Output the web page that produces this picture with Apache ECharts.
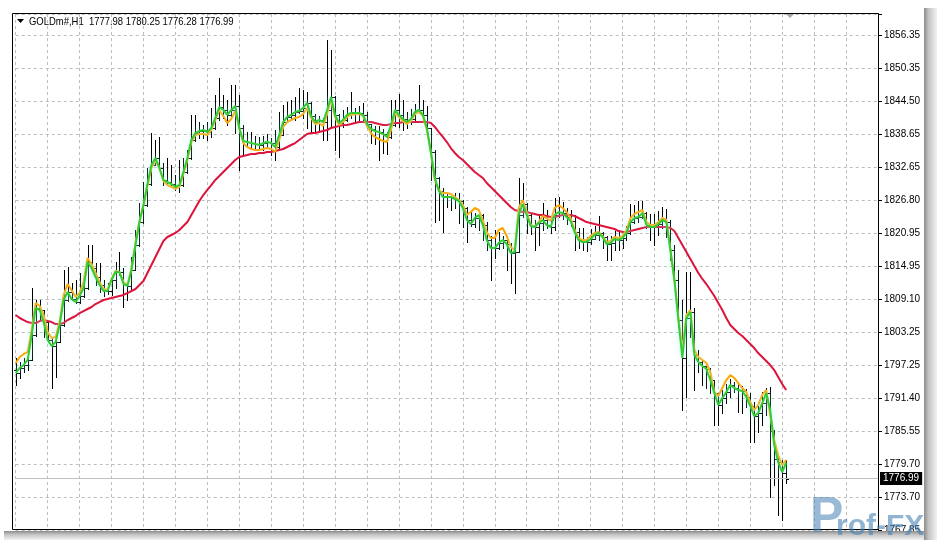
<!DOCTYPE html>
<html><head><meta charset="utf-8">
<script src="https://cdn.jsdelivr.net/npm/echarts@6/dist/echarts.min.js"></script>
<style>html,body{margin:0;padding:0;background:#fff;}#c{width:937px;height:540px;}</style>
</head><body><div id="c"></div>
<script>
const symbolTitle = 'GOLDm#,H1';
const slotCount = 217;
const categories = Array.from({length: slotCount}, (_, i) => String(i));

const openP = [1796.42,1795.88,1796.78,1797.32,1798.21,1802.68,1807.51,1807.15,1805.00,1801.78,
1800.71,1801.42,1804.47,1808.94,1810.37,1809.12,1808.58,1809.66,1811.09,1815.74,
1814.67,1813.06,1811.63,1810.55,1810.55,1812.52,1813.95,1813.95,1811.80,1811.45,
1814.31,1818.78,1822.89,1825.94,1829.69,1833.10,1834.35,1832.56,1830.41,1830.05,
1829.69,1829.16,1829.51,1831.84,1834.35,1837.56,1838.81,1839.17,1839.35,1838.99,
1839.71,1841.50,1843.47,1842.93,1842.04,1842.93,1843.65,1839.71,1837.38,1837.20,
1837.02,1836.84,1836.67,1837.02,1837.20,1837.02,1836.31,1838.46,1840.78,1841.68,
1842.04,1842.57,1842.75,1843.29,1844.18,1841.86,1840.78,1841.14,1840.78,1842.93,
1845.26,1842.04,1840.60,1841.14,1842.04,1842.39,1842.39,1842.39,1842.04,1840.42,
1839.53,1839.17,1838.99,1838.63,1838.10,1840.25,1842.93,1842.04,1841.32,1840.78,
1841.32,1842.57,1842.93,1842.04,1839.71,1835.42,1830.77,1828.44,1827.37,1827.37,
1827.37,1827.01,1826.65,1825.40,1823.25,1822.53,1823.61,1824.15,1822.36,1819.67,
1818.24,1818.24,1819.13,1819.67,1818.95,1817.35,1817.53,1824.15,1826.11,1824.15,
1822.18,1822.00,1822.71,1823.25,1822.36,1822.00,1824.15,1824.68,1824.50,1823.79,
1823.07,1821.10,1819.67,1819.31,1819.31,1819.85,1820.57,1820.93,1820.21,1818.95,
1819.13,1819.85,1819.67,1820.03,1820.93,1822.89,1823.61,1823.79,1824.50,1822.36,
1822.00,1822.00,1822.53,1823.25,1822.89,1817.89,1812.52,1805.36,1798.57,1805.72,
1806.79,1799.11,1797.85,1797.14,1796.60,1794.63,1792.30,1790.16,1791.41,1792.48,
1793.74,1793.20,1792.84,1792.66,1791.59,1789.98,1788.19,1788.72,1790.51,1792.30,
1785.50,1780.50,1779.96,1777.98];

const highP = [1798.57,1797.85,1798.57,1800.54,1811.09,1808.94,1808.94,1807.15,1805.20,1802.32,
1801.78,1805.72,1814.31,1814.85,1811.98,1812.52,1813.77,1813.77,1818.78,1818.78,
1815.56,1815.56,1812.52,1811.98,1812.90,1815.74,1817.53,1814.67,1811.98,1816.64,
1821.46,1826.29,1830.05,1832.56,1838.81,1837.56,1838.10,1833.45,1834.35,1833.10,
1831.30,1833.99,1834.35,1835.78,1842.04,1842.04,1840.78,1840.25,1840.78,1843.29,
1845.61,1848.66,1845.61,1844.72,1847.40,1847.40,1845.61,1840.25,1838.99,1838.99,
1838.28,1838.10,1838.28,1838.63,1837.92,1839.35,1842.57,1843.83,1844.36,1844.72,
1845.26,1846.87,1846.51,1846.15,1844.40,1842.22,1841.86,1841.50,1855.45,1853.67,
1845.50,1842.20,1842.93,1843.47,1846.15,1843.29,1843.65,1844.18,1842.57,1840.42,
1840.07,1840.07,1839.53,1838.99,1844.72,1844.72,1845.79,1844.72,1842.57,1843.11,
1844.00,1847.40,1844.72,1843.65,1839.71,1835.78,1831.00,1828.98,1828.08,1827.54,
1828.08,1828.08,1826.90,1825.58,1824.68,1824.50,1824.15,1824.30,1822.89,1820.39,
1821.46,1821.10,1820.39,1820.39,1819.10,1817.89,1830.77,1829.87,1826.30,1824.30,
1823.25,1824.15,1826.29,1825.04,1823.61,1827.19,1827.37,1826.47,1825.40,1825.04,
1824.15,1821.82,1821.82,1820.21,1821.64,1822.18,1823.97,1821.10,1820.40,1820.39,
1821.28,1821.46,1821.10,1822.18,1826.11,1825.94,1826.65,1826.65,1824.68,1824.33,
1824.33,1824.86,1825.58,1825.22,1823.25,1818.78,1814.31,1808.94,1813.95,1813.95,
1807.51,1800.00,1798.21,1797.14,1796.78,1794.63,1792.30,1792.84,1793.92,1794.81,
1794.27,1793.92,1793.56,1793.02,1792.30,1790.69,1789.98,1792.48,1793.20,1793.38,
1785.68,1780.68,1780.32,1780.25];

const lowP = [1793.74,1794.99,1796.06,1796.42,1798.21,1802.50,1805.36,1802.32,1801.42,1793.20,
1795.17,1801.42,1804.30,1808.80,1809.00,1808.40,1808.40,1809.50,1810.90,1814.50,
1811.63,1810.37,1809.66,1810.01,1809.84,1811.09,1813.42,1807.69,1808.94,1810.73,
1814.31,1818.60,1822.70,1825.80,1829.50,1833.10,1832.20,1829.51,1829.90,1829.51,
1828.62,1828.26,1829.30,1831.70,1834.20,1837.40,1837.92,1837.92,1837.56,1838.10,
1839.50,1841.14,1841.50,1840.25,1841.50,1838.81,1832.20,1834.79,1836.49,1836.13,
1835.78,1835.95,1835.78,1836.13,1834.88,1833.99,1836.10,1838.46,1840.78,1841.14,
1841.14,1842.39,1841.50,1839.71,1839.17,1838.81,1839.17,1837.56,1837.56,1839.89,
1835.78,1834.53,1839.89,1840.96,1841.50,1840.96,1841.14,1840.78,1839.71,1837.02,
1836.84,1833.99,1835.24,1835.06,1837.90,1840.00,1839.89,1839.35,1839.71,1840.42,
1841.10,1842.57,1840.78,1838.99,1830.41,1822.89,1823.25,1821.10,1825.58,1825.04,
1825.40,1822.71,1822.00,1819.31,1822.18,1822.00,1821.46,1819.67,1817.89,1812.52,
1816.46,1818.00,1818.24,1814.31,1811.98,1810.19,1817.53,1823.79,1820.93,1820.75,
1817.89,1818.78,1821.46,1821.82,1820.93,1821.46,1823.79,1823.43,1822.53,1822.18,
1817.89,1818.24,1817.89,1817.71,1818.95,1819.85,1819.67,1818.24,1816.10,1816.10,
1817.89,1817.89,1818.24,1819.67,1820.75,1822.71,1822.89,1823.60,1821.82,1819.67,
1818.78,1820.57,1821.82,1820.21,1816.10,1812.30,1805.36,1789.26,1791.59,1802.32,
1792.84,1796.06,1793.74,1793.20,1792.30,1786.58,1786.58,1788.72,1790.51,1791.59,
1792.48,1788.90,1788.72,1789.80,1783.53,1783.53,1785.33,1786.58,1788.37,1773.70,
1775.85,1770.49,1769.58,1776.28];

const closeP = [1795.88,1796.78,1797.32,1798.21,1802.68,1807.51,1807.15,1805.00,1801.78,1800.71,
1801.42,1804.47,1808.94,1810.37,1809.12,1808.58,1809.66,1811.09,1815.74,1814.67,
1813.06,1811.63,1810.55,1810.55,1812.52,1813.95,1813.95,1811.80,1811.45,1814.31,
1818.78,1822.89,1825.94,1829.69,1833.10,1834.35,1832.56,1830.41,1830.05,1829.69,
1829.16,1829.51,1831.84,1834.35,1837.56,1838.81,1839.17,1839.35,1838.99,1839.71,
1841.50,1843.47,1842.93,1842.04,1842.93,1843.65,1839.71,1837.38,1837.20,1837.02,
1836.84,1836.67,1837.02,1837.20,1837.02,1836.31,1838.46,1840.78,1841.68,1842.04,
1842.57,1842.75,1843.29,1844.18,1841.86,1840.78,1841.14,1840.78,1842.93,1845.26,
1842.04,1840.60,1841.14,1842.04,1842.39,1842.39,1842.39,1842.04,1840.42,1839.53,
1839.17,1838.99,1838.63,1838.10,1840.25,1842.93,1842.04,1841.32,1840.78,1841.32,
1842.57,1842.93,1842.04,1839.71,1835.42,1830.77,1828.44,1827.37,1827.37,1827.37,
1827.01,1826.65,1825.40,1823.25,1822.53,1823.61,1824.15,1822.36,1819.67,1818.24,
1818.24,1819.13,1819.67,1818.95,1817.35,1817.53,1824.15,1826.11,1824.15,1822.18,
1822.00,1822.71,1823.25,1822.36,1822.00,1824.15,1824.68,1824.50,1823.79,1823.07,
1821.10,1819.67,1819.31,1819.31,1819.85,1820.57,1820.93,1820.21,1818.95,1819.13,
1819.85,1819.67,1820.03,1820.93,1822.89,1823.61,1823.79,1824.50,1822.36,1822.00,
1822.00,1822.53,1823.25,1822.89,1817.89,1812.52,1805.36,1798.57,1805.72,1806.79,
1799.11,1797.85,1797.14,1796.60,1794.63,1792.30,1790.16,1791.41,1792.48,1793.74,
1793.20,1792.84,1792.66,1791.59,1789.98,1788.19,1788.72,1790.51,1792.30,1785.50,
1780.50,1779.96,1777.98,1776.99];

const greenMA = [1795.88,1796.78,1797.32,1798.21,1802.68,1807.51,1807.15,1805.00,1801.78,1800.71,
1801.42,1804.47,1808.94,1810.37,1809.12,1808.58,1809.66,1811.09,1815.74,1814.67,
1813.06,1811.63,1810.55,1810.55,1812.52,1813.95,1813.95,1811.80,1811.45,1814.31,
1818.78,1822.89,1825.94,1829.69,1833.10,1834.35,1832.56,1830.41,1830.05,1829.69,
1829.16,1829.51,1831.84,1834.35,1837.56,1838.81,1839.17,1839.35,1838.99,1839.71,
1841.50,1843.47,1842.93,1842.04,1842.93,1843.65,1839.71,1837.38,1837.20,1837.02,
1836.84,1836.67,1837.02,1837.20,1837.02,1836.31,1838.46,1840.78,1841.68,1842.04,
1842.57,1842.75,1843.29,1844.18,1841.86,1840.78,1841.14,1840.78,1842.93,1845.26,
1842.04,1840.60,1841.14,1842.04,1842.39,1842.39,1842.39,1842.04,1840.42,1839.53,
1839.17,1838.99,1838.63,1838.10,1840.25,1842.93,1842.04,1841.32,1840.78,1841.32,
1842.57,1842.93,1842.04,1839.71,1835.42,1830.77,1828.44,1827.37,1827.37,1827.37,
1827.01,1826.65,1825.40,1823.25,1822.53,1823.61,1824.15,1822.36,1819.67,1818.24,
1818.24,1819.13,1819.67,1818.95,1817.35,1817.53,1824.15,1826.11,1824.15,1822.18,
1822.00,1822.71,1823.25,1822.36,1822.00,1824.15,1824.68,1824.50,1823.79,1823.07,
1821.10,1819.67,1819.31,1819.31,1819.85,1820.57,1820.93,1820.21,1818.95,1819.13,
1819.85,1819.67,1820.03,1820.93,1822.89,1823.61,1823.79,1824.50,1822.36,1822.00,
1822.00,1822.53,1823.25,1822.89,1817.89,1812.52,1805.36,1798.57,1805.72,1806.79,
1799.11,1797.85,1797.14,1796.60,1794.63,1792.30,1790.16,1791.41,1792.48,1793.74,
1793.20,1792.84,1792.66,1791.59,1789.98,1788.19,1788.72,1790.51,1792.30,1789.26,
1783.00,1779.96,1778.17,1779.78];

const orangeMA = [1797.67,1798.75,1799.28,1799.64,1803.57,1808.40,1807.87,1806.26,1803.21,1802.14,
1802.32,1805.00,1809.84,1811.80,1810.73,1809.48,1810.19,1812.16,1816.46,1815.38,
1813.77,1812.16,1810.91,1810.73,1812.70,1814.13,1813.95,1812.16,1811.63,1814.67,
1819.13,1823.07,1825.94,1829.33,1832.56,1833.99,1832.56,1830.23,1829.51,1829.16,
1828.80,1829.16,1831.48,1833.99,1837.20,1838.46,1838.63,1838.63,1838.46,1839.35,
1841.14,1842.93,1841.86,1840.60,1841.32,1842.75,1839.71,1837.02,1836.31,1835.95,
1835.78,1835.78,1835.95,1836.13,1835.95,1835.42,1837.56,1839.89,1840.78,1841.14,
1841.50,1841.68,1842.22,1843.29,1841.50,1840.42,1840.60,1840.07,1842.22,1844.72,
1841.68,1840.25,1840.78,1841.68,1842.04,1842.22,1842.22,1841.86,1840.07,1838.81,
1838.10,1837.74,1837.38,1837.20,1839.35,1842.39,1841.68,1840.96,1840.42,1840.96,
1842.22,1842.57,1841.86,1839.35,1835.24,1830.41,1828.62,1828.08,1828.08,1827.90,
1827.37,1826.83,1825.94,1824.15,1824.68,1825.40,1825.04,1823.25,1821.10,1820.03,
1820.03,1821.46,1821.82,1820.39,1818.42,1817.89,1825.40,1826.83,1824.68,1822.36,
1822.00,1822.89,1823.97,1823.61,1823.07,1825.40,1825.94,1825.40,1824.68,1823.61,
1821.46,1820.03,1819.67,1819.67,1820.39,1820.93,1821.10,1820.39,1819.31,1819.49,
1820.21,1820.03,1820.39,1821.46,1823.61,1824.33,1824.68,1825.04,1822.89,1822.36,
1822.36,1822.89,1823.61,1823.25,1817.89,1812.52,1805.72,1800.00,1806.26,1807.15,
1800.00,1798.75,1798.21,1797.67,1796.06,1792.48,1791.77,1793.20,1794.63,1795.52,
1794.99,1794.09,1793.20,1792.48,1790.69,1789.26,1790.16,1791.95,1792.84,1788.37,
1783.89,1781.21,1779.42,1780.32];

const redMA = [1806.26,1805.72,1805.36,1805.00,1804.82,1804.82,1805.18,1805.36,1805.18,1805.00,
1804.64,1804.64,1804.82,1805.36,1805.72,1806.08,1806.61,1806.97,1807.33,1807.69,
1808.22,1808.58,1808.94,1809.12,1809.30,1809.48,1809.66,1809.84,1810.19,1810.55,
1810.91,1811.63,1812.34,1813.77,1815.20,1816.64,1818.07,1819.49,1820.21,1820.57,
1820.93,1821.46,1822.18,1822.89,1824.15,1825.40,1826.65,1827.72,1828.62,1829.51,
1830.41,1831.12,1831.84,1832.56,1833.27,1833.99,1834.53,1834.71,1834.88,1835.06,
1835.06,1835.24,1835.24,1835.42,1835.42,1835.60,1835.78,1835.95,1836.31,1836.67,
1837.02,1837.56,1838.10,1838.63,1838.81,1838.81,1838.99,1839.17,1839.35,1839.71,
1839.89,1840.07,1840.25,1840.25,1840.42,1840.60,1840.78,1840.78,1840.78,1840.78,
1840.60,1840.42,1840.25,1840.25,1840.42,1840.60,1840.60,1840.78,1840.78,1840.78,
1840.78,1840.78,1840.78,1840.78,1840.60,1839.89,1838.99,1838.10,1837.20,1836.13,
1835.24,1834.53,1833.99,1833.27,1832.56,1831.84,1831.30,1830.77,1829.87,1829.16,
1828.44,1827.72,1827.01,1826.29,1825.58,1825.04,1824.86,1824.68,1824.68,1824.50,
1824.33,1824.15,1824.15,1823.97,1823.79,1823.79,1823.97,1824.15,1824.15,1824.15,
1823.97,1823.61,1823.25,1822.89,1822.71,1822.53,1822.36,1822.18,1822.00,1821.82,
1821.64,1821.28,1821.10,1821.10,1821.28,1821.46,1821.64,1821.82,1822.00,1822.00,
1822.00,1822.00,1822.00,1822.00,1821.82,1821.28,1820.03,1818.78,1817.53,1816.28,
1815.02,1813.77,1812.70,1811.80,1810.73,1809.66,1808.40,1807.15,1805.72,1804.47,
1803.75,1803.04,1802.50,1801.78,1801.07,1800.35,1799.46,1798.75,1798.03,1797.31,
1796.42,1795.17,1793.92,1792.84];

const tickLabels = ['1767.85','1773.70','1779.70','1785.55','1791.40','1797.25','1803.25','1809.10',
  '1814.95','1820.95','1826.80','1832.65','1838.65','1844.50','1850.35','1856.35'];

const n = closeP.length;
const last = n - 1;
const lastPrice = closeP[last];
const headerText = symbolTitle + '  ' + [openP[last], highP[last], lowP[last], closeP[last]].map(v => v.toFixed(2)).join(' ');
const ohlcData = openP.map((o, i) => [i, o, highP[i], lowP[i], closeP[i]]);

const FONT = '"Liberation Sans", Arial, sans-serif';
const chart = echarts.init(document.getElementById('c'), null, {renderer: 'canvas'});

chart.setOption({
  animation: false,
  backgroundColor: '#ffffff',
  grid: {left: 15.7, right: 59, top: 14, bottom: 10, containLabel: false},
  xAxis: {
    type: 'category', data: categories, boundaryGap: false,
    axisLine: {show: false}, axisTick: {show: false}, axisLabel: {show: false},
    splitLine: {show: true, interval: (idx) => idx % 8 === 0,
      lineStyle: {color: '#bdbdbd', type: [3, 3], width: 1}}
  },
  yAxis: [
    {type: 'value', min: 1767.80, max: 1860.10, show: false, scale: true, splitLine: {show: false}},
    {type: 'value', min: 0, max: 15.635, interval: 1, position: 'right',
      axisLine: {show: true, lineStyle: {color: '#000', width: 1}},
      axisTick: {show: true, length: 4, inside: false, lineStyle: {color: '#000'}},
      axisLabel: {show: true, margin: 6, color: '#000', fontSize: 10, fontFamily: FONT,
        formatter: (v) => { const k = Math.round(v); return (Math.abs(v - k) < 1e-6 && k >= 0 && k < tickLabels.length) ? tickLabels[k] : ''; }},
      splitLine: {show: true, lineStyle: {color: '#bdbdbd', type: [3, 3], width: 1}}
    }
  ],
  series: [
    {
      type: 'custom', name: 'bars', xAxisIndex: 0, yAxisIndex: 0, z: 3,
      data: ohlcData, encode: {x: 0, y: [1, 2, 3, 4]}, clip: false,
      renderItem: (params, api) => {
        const i = api.value(0);
        const pO = api.coord([i, api.value(1)]);
        const pH = api.coord([i, api.value(2)]);
        const pL = api.coord([i, api.value(3)]);
        const pC = api.coord([i, api.value(4)]);
        const x = Math.round(pH[0]) + 0.5;
        const st = {stroke: '#000', lineWidth: 1};
        const yo = Math.round(pO[1]) + 0.5, yc = Math.round(pC[1]) + 0.5;
        return {type: 'group', children: [
          {type: 'line', shape: {x1: x, y1: Math.round(pH[1]), x2: x, y2: Math.round(pL[1]) + 1}, style: st},
          {type: 'line', shape: {x1: x - 2.5, y1: yo, x2: x, y2: yo}, style: st},
          {type: 'line', shape: {x1: x, y1: yc, x2: x + 2.5, y2: yc}, style: st}
        ]};
      },
      markLine: {
        silent: true, symbol: 'none', animation: false,
        lineStyle: {color: '#c0c0c0', type: 'solid', width: 1},
        label: {show: true, position: 'end', distance: 2, formatter: lastPrice.toFixed(2),
          backgroundColor: '#000', color: '#fff', padding: [2, 3, 1, 3], fontSize: 10, fontFamily: FONT},
        data: [{yAxis: lastPrice}]
      }
    },
    {type: 'line', name: 'red', data: redMA, yAxisIndex: 0, showSymbol: false, symbol: 'none', z: 4,
      lineStyle: {color: '#dc143c', width: 2}},
    {type: 'line', name: 'orange', data: orangeMA, yAxisIndex: 0, showSymbol: false, symbol: 'none', z: 5,
      lineStyle: {color: '#ffa500', width: 2}},
    {type: 'line', name: 'green', data: greenMA, yAxisIndex: 0, showSymbol: false, symbol: 'none', z: 6,
      lineStyle: {color: '#32cd32', width: 2, shadowColor: 'rgba(170,255,255,0.9)', shadowBlur: 6}}
  ],
  graphic: [
    {type: 'rect', z: 100, silent: true, shape: {x: 12.5, y: 13.5, width: 866, height: 516},
      style: {fill: null, stroke: '#000', lineWidth: 1}},
    {type: 'polygon', z: 100, silent: true, shape: {points: [[17, 19], [24, 19], [20.5, 23]]}, style: {fill: '#000'}},
    {type: 'text', z: 100, silent: true, x: 29, y: 21.5, scaleX: 0.86, scaleY: 1,
      style: {text: headerText, font: '11px ' + FONT, fill: '#000', verticalAlign: 'middle'}},
    {type: 'polygon', z: 100, silent: true, shape: {points: [[786, 14], [794, 14], [790, 18]]}, style: {fill: '#a8a8a8'}},
    {type: 'rect', z: 110, silent: true, shape: {x: 924, y: 8, width: 13, height: 532},
      style: {fill: new echarts.graphic.LinearGradient(0, 0, 1, 0, [
        {offset: 0, color: '#8c8c8c'}, {offset: 0.35, color: '#c4c4c4'}, {offset: 1, color: '#f2f2f2'}])}},
    {type: 'rect', z: 110, silent: true, shape: {x: 4, y: 531, width: 920, height: 9},
      style: {fill: new echarts.graphic.LinearGradient(0, 0, 0, 1, [
        {offset: 0, color: '#8c8c8c'}, {offset: 0.4, color: '#c4c4c4'}, {offset: 1, color: '#f2f2f2'}])}},
    {type: 'text', z: 120, silent: true, x: 810, y: 543,
      style: {text: 'P', font: 'bold 50px "Liberation Sans", Arial, sans-serif', fill: 'rgba(70,130,180,0.55)', verticalAlign: 'bottom'}},
    {type: 'text', z: 120, silent: true, x: 836, y: 542,
      style: {text: 'rof-FX', font: 'bold 30px "Liberation Sans", Arial, sans-serif', fill: 'rgba(70,130,180,0.6)', verticalAlign: 'bottom'}}
  ]
});
</script>
</body></html>
